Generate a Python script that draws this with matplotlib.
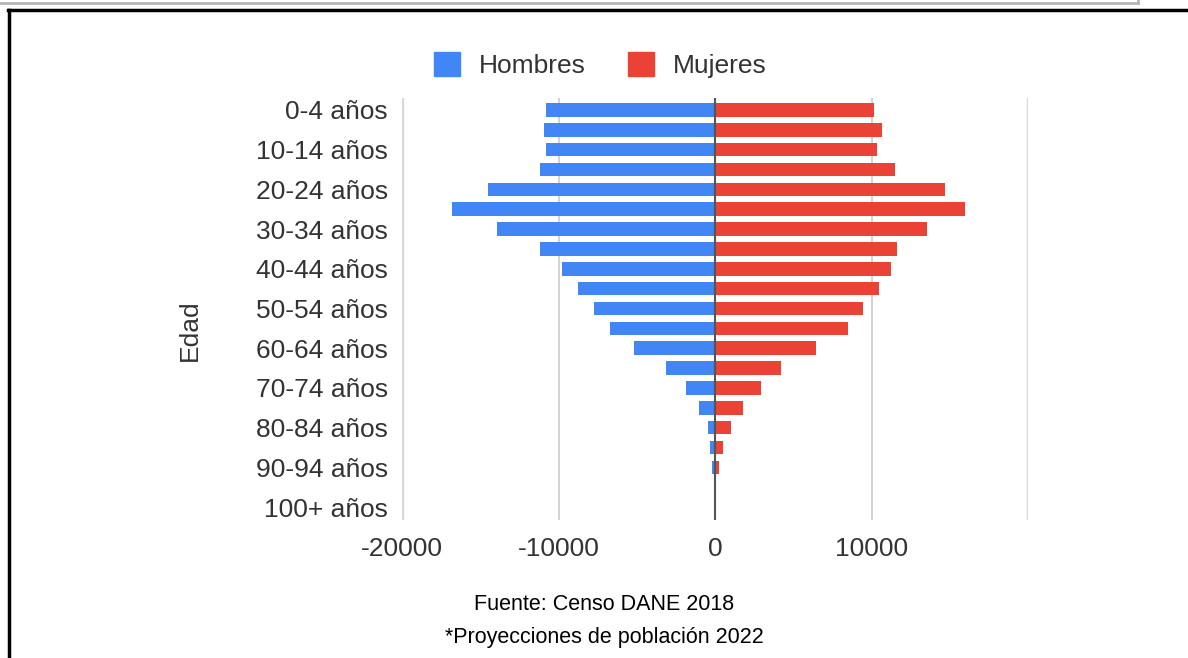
import matplotlib.pyplot as plt
from matplotlib.lines import Line2D
from matplotlib.patches import Patch

plt.rcParams['font.family'] = ['Liberation Sans', 'DejaVu Sans']

# Grupos de edad (21 grupos quinquenales)
edades = ['0-4 años', '5-9 años', '10-14 años', '15-19 años', '20-24 años',
          '25-29 años', '30-34 años', '35-39 años', '40-44 años', '45-49 años',
          '50-54 años', '55-59 años', '60-64 años', '65-69 años', '70-74 años',
          '75-79 años', '80-84 años', '85-89 años', '90-94 años', '95-99 años',
          '100+ años']
# Hombres en negativo para el lado izquierdo de la pirámide
hombres = [-10800, -10950, -10800, -11200, -14500, -16800, -13900, -11200,
           -9800, -8770, -7750, -6730, -5200, -3150, -1870, -1000, -470,
           -340, -210, -50, -20]
mujeres = [10170, 10650, 10320, 11480, 14680, 16000, 13550, 11650, 11230,
           10490, 9480, 8490, 6430, 4230, 2940, 1780, 1050, 490, 230, 60, 30]
xticks = [-20000, -10000, 0, 10000]

azul = '#4285F4'
rojo = '#EA4335'
gris_txt = '#333333'
fs = 19

W, H = 1188, 658
fig = plt.figure(figsize=(W / 100, H / 100), dpi=100)
ax = fig.add_axes([402 / W, 1 - 520 / H, (1028 - 402) / W, (520 - 98) / H])

pos = list(range(len(edades)))
ax.barh(pos, hombres, height=0.68, color=azul, zorder=3)
ax.barh(pos, mujeres, height=0.68, color=rojo, zorder=3)

ax.set_xlim(-20000, 20000)
ax.set_ylim(20.65, -0.6)

# lineas de referencia verticales
for x, c, lw in [(-20000, '#d9d9d9', 2.5), (-10000, '#cccccc', 1.2),
                 (10000, '#cccccc', 1.2), (20000, '#d9d9d9', 2.5)]:
    ax.axvline(x, color=c, lw=lw, zorder=1)
ax.axvline(0, color='#555555', lw=1.5, zorder=4)

ax.set_yticks(pos[::2])
ax.set_yticklabels(edades[::2])
ax.set_xticks(xticks)
ax.set_xticklabels([str(v) for v in xticks])
ax.tick_params(length=0, labelsize=fs, labelcolor=gris_txt)
ax.tick_params(axis='y', pad=10)
ax.tick_params(axis='x', pad=12)
for s in ax.spines.values():
    s.set_visible(False)

fig.text(190 / W, 1 - 330 / H, 'Edad', rotation=90, ha='center', va='center',
         fontsize=fs, color=gris_txt)

handles = [Patch(color=azul, label='Hombres'), Patch(color=rojo, label='Mujeres')]
fig.legend(handles=handles, loc='center', bbox_to_anchor=(600 / W, 1 - 65 / H),
           ncol=2, frameon=False, fontsize=fs, handlelength=1.0,
           handleheight=1.0, columnspacing=1.6, handletextpad=0.7,
           labelcolor=gris_txt)

fig.text(604 / W, 1 - 605 / H, 'Fuente: Censo DANE 2018', ha='center',
         va='center', fontsize=15.5, color='black')
fig.text(604 / W, 1 - 637 / H, '*Proyecciones de población 2022', ha='center',
         va='center', fontsize=15.5, color='black')

# marco de la captura
fig.add_artist(Line2D([0, 1138 / W], [1 - 3 / H, 1 - 3 / H], color='#b5b5b5', lw=2))
fig.add_artist(Line2D([1138 / W, 1138 / W], [1, 1 - 3 / H], color='#b5b5b5', lw=2))
fig.add_artist(Line2D([8 / W, 1], [1 - 10 / H, 1 - 10 / H], color='black', lw=2.5))
fig.add_artist(Line2D([9 / W, 9 / W], [0, 1 - 10 / H], color='black', lw=2.5))

fig.savefig('out.png', dpi=100)
